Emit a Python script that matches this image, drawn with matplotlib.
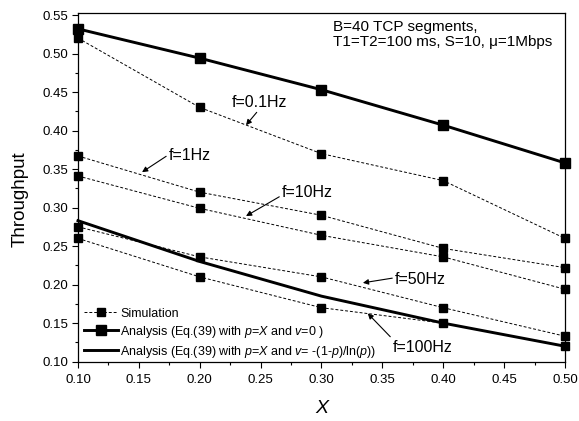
import matplotlib
matplotlib.use("Agg")
import matplotlib.pyplot as plt
from matplotlib.ticker import MultipleLocator, FormatStrFormatter

plt.rcParams["font.family"] = ["Liberation Sans", "DejaVu Sans"]
plt.rcParams["mathtext.fontset"] = "custom"
plt.rcParams["mathtext.rm"] = "Liberation Sans"
plt.rcParams["mathtext.it"] = "Liberation Sans:italic"

# data
x = [0.10, 0.20, 0.30, 0.40, 0.50]
sim_01hz = [0.520, 0.430, 0.370, 0.335, 0.260]
sim_1hz = [0.367, 0.320, 0.290, 0.247, 0.222]
sim_10hz = [0.341, 0.299, 0.264, 0.236, 0.194]
sim_50hz = [0.275, 0.236, 0.210, 0.170, 0.133]
sim_100hz = [0.260, 0.210, 0.170, 0.150, 0.120]
analysis_v0 = [0.532, 0.494, 0.453, 0.407, 0.358]
analysis_vln = [0.283, 0.230, 0.185, 0.150, 0.120]

fig = plt.figure(figsize=(5.79, 4.21), dpi=100)
ax = fig.add_axes([0.1347, 0.141, 0.8411, 0.827])

sim_style = dict(color="black", lw=0.7, ls=(0, (3, 2)), marker="s", ms=5.3, clip_on=False, zorder=3)
sims = [sim_01hz, sim_1hz, sim_10hz, sim_50hz, sim_100hz]
for i, s in enumerate(sims):
    ax.plot(x, s, label="Simulation" if i == 0 else None, **sim_style)

ax.plot(x, analysis_v0, color="black", lw=2.1, marker="s", ms=6.7, clip_on=False, zorder=4,
        label="Analysis (Eq.(39) with $p$=$X$ and $v$=0 )")
ax.plot(x, analysis_vln, color="black", lw=2.1, clip_on=False, zorder=4,
        label="Analysis (Eq.(39) with $p$=$X$ and $v$= -(1-$p$)/ln($p$))")

ax.set_xlim(0.10, 0.50)
ax.set_ylim(0.10, 0.552)
ax.xaxis.set_major_locator(MultipleLocator(0.05))
ax.xaxis.set_minor_locator(MultipleLocator(0.025))
ax.yaxis.set_major_locator(MultipleLocator(0.05))
ax.yaxis.set_minor_locator(MultipleLocator(0.025))
ax.xaxis.set_major_formatter(FormatStrFormatter("%.2f"))
ax.yaxis.set_major_formatter(FormatStrFormatter("%.2f"))
ax.tick_params(which="major", direction="out", length=4.5, width=0.8, labelsize=9.5, pad=2.5)
ax.tick_params(which="minor", direction="out", length=2.5, width=0.8)
ax.tick_params(axis="x", which="major", pad=4.5)
for sp in ax.spines.values():
    sp.set_linewidth(0.9)

ax.set_xlabel("X", fontsize=14, style="italic", labelpad=10)
ax.set_ylabel("Throughput", fontsize=13.5, va="center")
ax.yaxis.set_label_coords(-0.118, 0.467)

ax.text(0.3094, 0.5344, "B=40 TCP segments,", fontsize=11, va="center", ha="left")
ax.text(0.3094, 0.5150, "T1=T2=100 ms, S=10, \u03bc=1Mbps", fontsize=11, va="center", ha="left")

arrow = dict(arrowstyle="-|>", color="black", lw=0.8, mutation_scale=8, shrinkA=0, shrinkB=0)
ax.annotate("f=0.1Hz", xy=(0.238, 0.407), xytext=(0.2487, 0.437), fontsize=11.5,
            ha="center", va="center", arrowprops=dict(arrow, relpos=(0.5, 0.0)))
ax.annotate("f=1Hz", xy=(0.1526, 0.346), xytext=(0.1747, 0.367), fontsize=11.5,
            ha="left", va="center", arrowprops=dict(arrow, relpos=(0.0, 0.6)))
ax.annotate("f=10Hz", xy=(0.238, 0.289), xytext=(0.2676, 0.320), fontsize=11.5,
            ha="left", va="center", arrowprops=dict(arrow, relpos=(0.0, 0.3)))
ax.annotate("f=50Hz", xy=(0.334, 0.2023), xytext=(0.3604, 0.207), fontsize=11.5,
            ha="left", va="center", arrowprops=dict(arrow, relpos=(0.0, 0.6)))
ax.annotate("f=100Hz", xy=(0.338, 0.1626), xytext=(0.3587, 0.119), fontsize=11.5,
            ha="left", va="center", arrowprops=dict(arrow, relpos=(0.0, 1.0)))

ax.legend(loc="lower left", bbox_to_anchor=(0.008, 0.0), frameon=False, fontsize=9,
          numpoints=1, handlelength=2.7, handletextpad=0.2, labelspacing=0.32,
          borderaxespad=0.0, borderpad=0.15)

fig.savefig("out.png", dpi=100)
